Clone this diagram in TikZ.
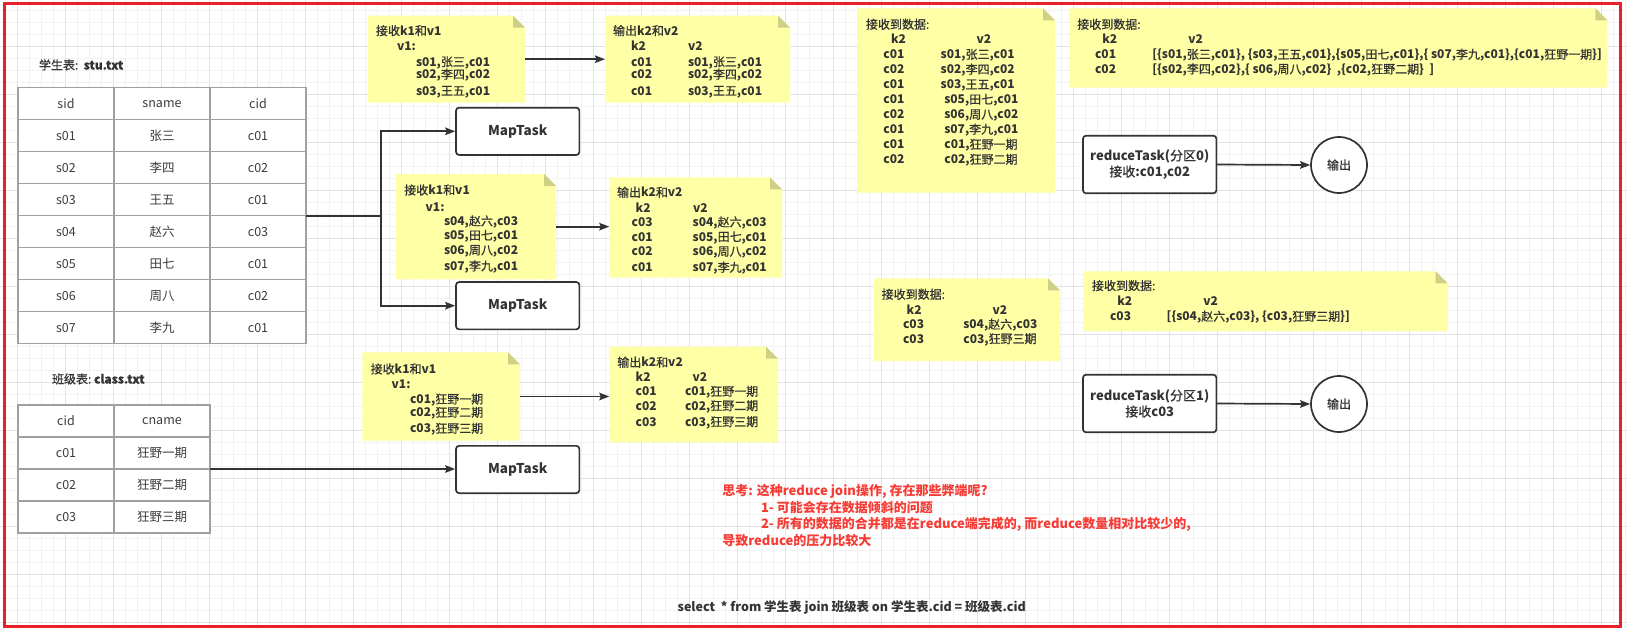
\documentclass[tikz,border=0pt]{standalone}
\usepackage{fontspec}
\setmainfont{Noto Sans CJK SC}
\newfontfamily\cjkmed{Noto Sans CJK SC}[FakeBold=0.8]
\usetikzlibrary{arrows.meta}
\definecolor{textdark}{HTML}{333333}
\definecolor{linec}{HTML}{333333}
\definecolor{notefillc}{HTML}{FFFFA6}
\definecolor{foldc}{HTML}{CFCF86}
\definecolor{tabline}{HTML}{A0A0A0}
\definecolor{tabtext}{HTML}{3C3C3C}
\definecolor{redtext}{HTML}{F73B35}
\definecolor{redborder}{HTML}{E8202A}
\definecolor{gminorc}{HTML}{F2F2F2}
\definecolor{gmajorc}{HTML}{E3E3E3}
\newcommand\zr[1]{{\cjkmed\mdseries #1}}
\newcommand\mknote[5]{%
  \node[notenode, minimum width={#4-#2}, minimum height={#5-#3}, anchor=north west] (#1) at (#2,#3) {};
  \fill[notefillc] (#1.north west) -- ([xshift=-12pt]#1.north east) -- ([yshift=-12pt]#1.north east) -- (#1.south east) -- (#1.south west) -- cycle;
  \fill[foldc] ([xshift=-12pt]#1.north east) -- ([xshift=-12pt,yshift=-12pt]#1.north east) -- ([yshift=-12pt]#1.north east) -- cycle;
}
\tikzset{
  gminor/.style={draw=gminorc, line width=0.8pt},
  gmajor/.style={draw=gmajorc, line width=0.8pt},
  notenode/.style={inner sep=0pt, outer sep=0pt, draw=none, rectangle},
  t/.style={anchor=base west, yshift=-4.5pt, inner sep=0pt, outer sep=0pt, text=textdark, font=\bfseries\fontsize{12}{14}\selectfont},
  th/.style={t, font=\cjkmed\mdseries\fontsize{12}{14}\selectfont},
  ttl/.style={t, font=\cjkmed\mdseries\fontsize{12}{14}\selectfont},
  redt/.style={anchor=base west, yshift=-4.9pt, inner sep=0pt, outer sep=0pt, text=redtext, font=\bfseries\fontsize{13}{15}\selectfont},
  sqlt/.style={anchor=base, yshift=-4.7pt, inner sep=0pt, outer sep=0pt, text=textdark, font=\bfseries\fontsize{12.5}{15}\selectfont},
  cell/.style={draw=tabline, line width=1.2pt, fill=white, minimum width=96pt, minimum height=32pt, inner sep=0pt, text=tabtext, font=\fontsize{12.5}{14}\selectfont},
  task/.style={draw=linec, line width=1.7pt, rounded corners=3pt, fill=white, text=textdark, inner sep=0pt, font=\bfseries\fontsize{13.5}{16}\selectfont},
  rtask/.style={task, minimum width=133.3pt, minimum height=57.6pt, align=center, font=\bfseries\fontsize{13}{16}\selectfont},
  circ/.style={draw=linec, line width=1.7pt, circle, fill=white, minimum size=56pt, inner sep=0pt, text=textdark, font=\cjkmed\mdseries\fontsize{12}{14}\selectfont},
  arr/.style={draw=linec, line width=1.7pt, -{Stealth[length=10pt,width=7.5pt,inset=1.5pt]}},
  conn/.style={draw=linec, line width=1.7pt},
}
\begin{document}
\begin{tikzpicture}[x=1pt,y=-1pt]
\useasboundingbox (0,0) rectangle (1627,629);
\fill[white] (0,0) rectangle (1627,629);
% background grid
\foreach \x in {5,17,...,1625} \draw[gminor] (\x,0) -- (\x,629);
\foreach \y in {10,22,...,628} \draw[gminor] (0,\y) -- (1627,\y);
\foreach \x in {17,65,...,1625} \draw[gmajor] (\x,0) -- (\x,629);
\foreach \y in {46,94,...,628} \draw[gmajor] (0,\y) -- (1627,\y);
% red frame
\draw[redborder, line width=3pt] (4.5,3.5) rectangle (1620.5,626);

% student table
\node[ttl] (title1) at (39,65) {学生表:\ \ \textbf{stu.txt}};
\foreach \r/\a/\b/\c in {0/sid/sname/cid, 1/s01/张三/c01, 2/s02/李四/c02, 3/s03/王五/c01, 4/s04/赵六/c03, 5/s05/田七/c01, 6/s06/周八/c02, 7/s07/李九/c01}{
  \node[cell] (st-\r-1) at (66,{103.7+32*\r}) {\a};
  \node[cell] (st-\r-2) at (162,{103.7+32*\r}) {\b};
  \node[cell] (st-\r-3) at (258,{103.7+32*\r}) {\c};
}
\coordinate (stuE) at (306,215.7);
\coordinate (jn) at (380.7,215.7);

% class table
\node[ttl] (title2) at (52,379) {班级表:\ \textbf{class.txt}};
\foreach \r/\a/\b in {0/cid/cname, 1/c01/狂野一期, 2/c02/狂野二期, 3/c03/狂野三期}{
  \node[cell] (cl-\r-1) at (66,{421+32*\r}) {\a};
  \node[cell] (cl-\r-2) at (162,{421+32*\r}) {\b};
}
\coordinate (clsE) at (210,469);

% MapTasks
\node[task, minimum width=123.3pt, minimum height=47.3pt] (mt1) at (517.7,131.3) {MapTask};
\node[task, minimum width=123.3pt, minimum height=47.3pt] (mt2) at (517.7,305.7) {MapTask};
\node[task, minimum width=123.3pt, minimum height=47.3pt] (mt3) at (517.7,469.5) {MapTask};
\draw[conn] (stuE) -- (jn);
\draw[arr] (jn) |- (mt1.west);
\draw[arr] (jn) |- (mt2.west);
\draw[arr] (clsE) -- (clsE -| mt3.west);

% notes
\mknote{n1}{368}{15.7}{525}{102.7}
\mknote{n2}{605}{15.7}{790}{102.7}
\mknote{n3}{396}{174}{556}{279.3}
\mknote{n4}{609.3}{177.3}{782}{277.7}
\mknote{n5}{362.3}{352.3}{520}{440.7}
\mknote{n6}{609.3}{346.7}{778}{442.3}
\mknote{r1}{857.7}{8.3}{1055}{192.7}
\mknote{r2}{1069.3}{8.3}{1607.3}{87.7}
\mknote{r3}{874}{278.3}{1060}{361}
\mknote{r4}{1083.3}{271.3}{1447.7}{331}

\draw[arr] (n1.east) -- (n1.east -| n2.west);
\draw[arr] (n3.east) -- (n3.east -| n4.west);
\draw[arr] (n5.east) -- (n5.east -| n6.west);

% note 1
\node[t] (n1a) at (376,30.7) {\zr{接收}k1\zr{和}v1};
\node[t] (n1b) at (397,46) {v1:};
\node[t] (n1c) at (416,61.7) {s01,\zr{张三},c01};
\node[t] (n1d) at (416,74.3) {s02,\zr{李四},c02};
\node[t] (n1e) at (416,90.7) {s03,\zr{王五},c01};
% note 2
\node[t] (n2a) at (613,30.7) {\zr{输出}k2\zr{和}v2};
\node[t] (n2b) at (631,46) {k2};
\node[t] (n2c) at (688,46) {v2};
\node[t] (n2d) at (631,61.7) {c01};
\node[t] (n2e) at (688,61.7) {s01,\zr{张三},c01};
\node[t] (n2f) at (631,74.3) {c02};
\node[t] (n2g) at (688,74.3) {s02,\zr{李四},c02};
\node[t] (n2h) at (631,90.7) {c01};
\node[t] (n2i) at (688,90.7) {s03,\zr{王五},c01};
% note 3
\node[t] (n3a) at (404.3,190) {\zr{接收}k1\zr{和}v1};
\node[t] (n3b) at (425.7,206.7) {v1:};
\node[t] (n3c) at (444,221) {s04,\zr{赵六},c03};
\node[t] (n3d) at (444,235.3) {s05,\zr{田七},c01};
\node[t] (n3e) at (444,250) {s06,\zr{周八},c02};
\node[t] (n3f) at (444,266) {s07,\zr{李九},c01};
% note 4
\node[t] (n4a) at (617,192.3) {\zr{输出}k2\zr{和}v2};
\node[t] (n4b) at (635.7,207.7) {k2};
\node[t] (n4c) at (693,207.7) {v2};
\node[t] (n4d) at (631.7,222) {c03};
\node[t] (n4e) at (692.7,222) {s04,\zr{赵六},c03};
\node[t] (n4f) at (631.7,236.7) {c01};
\node[t] (n4g) at (692.7,236.7) {s05,\zr{田七},c01};
\node[t] (n4h) at (631.7,251.3) {c02};
\node[t] (n4i) at (692.7,251.3) {s06,\zr{周八},c02};
\node[t] (n4j) at (631.7,267.3) {c01};
\node[t] (n4k) at (692.7,267.3) {s07,\zr{李九},c01};
% note 5
\node[t] (n5a) at (370.7,369) {\zr{接收}k1\zr{和}v1};
\node[t] (n5b) at (391.7,384) {v1:};
\node[t] (n5c) at (410,399) {c01,\zr{狂野一期}};
\node[t] (n5d) at (410,412.3) {c02,\zr{狂野二期}};
\node[t] (n5e) at (410,428.3) {c03,\zr{狂野三期}};
% note 6
\node[t] (n6a) at (617.3,362.3) {\zr{输出}k2\zr{和}v2};
\node[t] (n6b) at (635.7,376.7) {k2};
\node[t] (n6c) at (692.7,376.7) {v2};
\node[t] (n6d) at (635.7,391.3) {c01};
\node[t] (n6e) at (685,391.3) {c01,\zr{狂野一期}};
\node[t] (n6f) at (635.7,405.7) {c02};
\node[t] (n6g) at (685,405.7) {c02,\zr{狂野二期}};
\node[t] (n6h) at (635.7,421.7) {c03};
\node[t] (n6i) at (685,421.7) {c03,\zr{狂野三期}};

% reduce note r1
\node[th] (r1a) at (866,24.3) {接收到数据:};
\node[t] (r1b) at (891,39.3) {k2};
\node[t] (r1c) at (976.7,39.3) {v2};
\node[t] (r1k1) at (883.3,54.3) {c01};
\node[t] (r1v1) at (940.7,54.3) {s01,\zr{张三},c01};
\node[t] (r1k2) at (883.3,69.3) {c02};
\node[t] (r1v2) at (940.7,69.3) {s02,\zr{李四},c02};
\node[t] (r1k3) at (883.3,84.3) {c01};
\node[t] (r1v3) at (940.7,84.3) {s03,\zr{王五},c01};
\node[t] (r1k4) at (883.3,99.3) {c01};
\node[t] (r1v4) at (944.3,99.3) {s05,\zr{田七},c01};
\node[t] (r1k5) at (883.3,114.3) {c02};
\node[t] (r1v5) at (944.3,114.3) {s06,\zr{周八},c02};
\node[t] (r1k6) at (883.3,129.3) {c01};
\node[t] (r1v6) at (944.3,129.3) {s07,\zr{李九},c01};
\node[t] (r1k7) at (883.3,144.3) {c01};
\node[t] (r1v7) at (944.3,144.3) {c01,\zr{狂野一期}};
\node[t] (r1k8) at (883.3,159.3) {c02};
\node[t] (r1v8) at (944.3,159.3) {c02,\zr{狂野二期}};
% r2
\node[th] (r2a) at (1077.3,24.3) {接收到数据:};
\node[t] (r2b) at (1102.3,39.3) {k2};
\node[t] (r2c) at (1188.3,39.3) {v2};
\node[t] (r2k1) at (1095,54.3) {c01};
\node[t] (r2v1) at (1152.3,54.3) {[\{s01,\zr{张三},c01\}, \{s03,\zr{王五},c01\},\{s05,\zr{田七},c01\},\{ s07,\zr{李九},c01\},\{c01,\zr{狂野一期}\}]};
\node[t] (r2k2) at (1095,69) {c02};
\node[t] (r2v2) at (1152.3,69) {[\{s02,\zr{李四},c02\},\{ s06,\zr{周八},c02\}\ \ ,\{c02,\zr{狂野二期}\}\ \ ]};
% r3
\node[th] (r3a) at (881.7,294.3) {接收到数据:};
\node[t] (r3b) at (906.7,309.7) {k2};
\node[t] (r3c) at (992.7,309.7) {v2};
\node[t] (r3k1) at (903,324.3) {c03};
\node[t] (r3v1) at (963.3,324.3) {s04,\zr{赵六},c03};
\node[t] (r3k2) at (903,338.7) {c03};
\node[t] (r3v2) at (963.3,338.7) {c03,\zr{狂野三期}};
% r4
\node[th] (r4a) at (1092,285.7) {接收到数据:};
\node[t] (r4b) at (1117.3,301.3) {k2};
\node[t] (r4c) at (1203.3,301.3) {v2};
\node[t] (r4k1) at (1110,316.3) {c03};
\node[t] (r4v1) at (1166.7,316.3) {[\{s04,\zr{赵六},c03\}, \{c03,\zr{狂野三期}\}]};

% reduce tasks
\node[rtask] (rt0) at (1149.7,164.5) {reduceTask(\zr{分区}0)\\\zr{接收}:c01,c02};
\node[rtask] (rt1) at (1149.7,403.5) {reduceTask(\zr{分区}1)\\\zr{接收}c03};
\node[circ] (o0) at (1339,165) {输出};
\node[circ] (o1) at (1339,404) {输出};
\draw[arr] (rt0.east) -- (o0.west);
\draw[arr] (rt1.east) -- (o1.west);

% red remarks
\node[redt] (red1) at (722.3,490.7) {思考: 这种reduce join操作, 存在那些弊端呢?};
\node[redt] (red2) at (761,507.3) {1- 可能会存在数据倾斜的问题};
\node[redt] (red3) at (761,524) {2- 所有的数据的合并都是在reduce端完成的, 而reduce数量相对比较少的,};
\node[redt] (red4) at (722.3,540.6) {导致reduce的压力比较大};

% sql
\node[sqlt] (sql) at (851.7,606.3) {select\ \ * from 学生表 join 班级表 on 学生表.cid = 班级表.cid};
\end{tikzpicture}
\end{document}
